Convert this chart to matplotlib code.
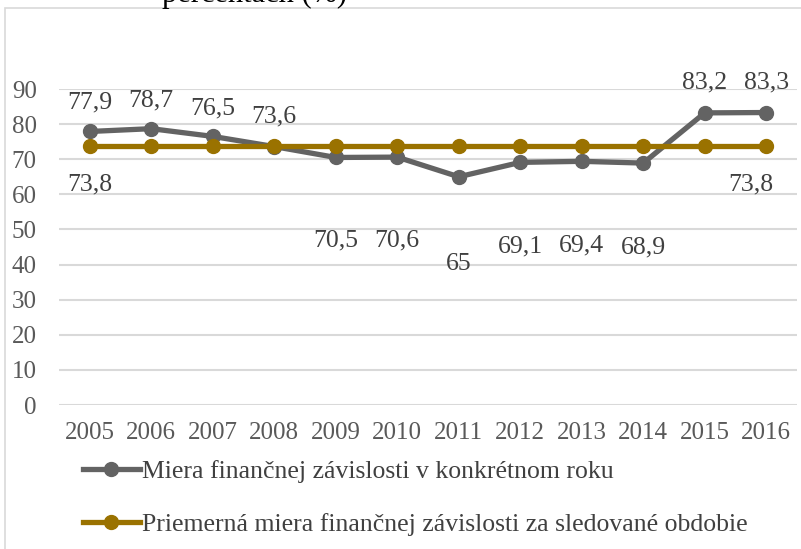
import matplotlib
matplotlib.use('Agg')
import matplotlib.pyplot as plt
from matplotlib.patches import Rectangle

years = ['2005', '2006', '2007', '2008', '2009', '2010', '2011', '2012', '2013', '2014', '2015', '2016']
miera = [77.9, 78.7, 76.5, 73.6, 70.5, 70.6, 65, 69.1, 69.4, 68.9, 83.2, 83.3]
priemer = [73.8] * 12
label_miera = 'Miera finančnej závislosti v konkrétnom roku'
label_priemer = 'Priemerná miera finančnej závislosti za sledované obdobie'

plt.rcParams['font.family'] = ['Liberation Serif', 'DejaVu Serif']

GRAY = '#636363'
GOLD = '#9a7200'
TXT = '#404040'

fig = plt.figure(figsize=(8.01, 5.49), dpi=100)
ax = fig.add_axes([59 / 801, 1 - 405 / 549, 738 / 801, 316 / 549])

x = list(range(len(years)))
ax.plot(x, miera, color=GRAY, lw=3.8, marker='o', ms=10, label=label_miera, zorder=3)
ax.plot(x, priemer, color=GOLD, lw=3.8, marker='o', ms=10, label=label_priemer, zorder=4)

# label offsets (pixels) the way excel placed them
up = [29, 28, 28, 30, -83, -83, -87, -84, -84, -84, 30, 30]
for i, v in enumerate(miera):
    ax.annotate(f'{v:g}'.replace('.', ','), (i, v), xytext=(0, up[i]), textcoords='offset pixels',
                ha='center', va='center', fontsize=18.5, color=TXT, zorder=5)
for i, dx in [(0, 0), (11, -15)]:
    ax.annotate(f'{priemer[i]:g}'.replace('.', ','), (i, priemer[i]), xytext=(dx, -39),
                textcoords='offset pixels', ha='center', va='center', fontsize=18.5, color=TXT, zorder=5)

ax.set_xlim(-0.5, 11.5)
ax.set_ylim(0, 90)
ax.set_yticks(range(0, 91, 10))
ax.set_xticks(x)
ax.set_xticklabels(years)
ax.grid(axis='y', color='#d9d9d9', lw=1.5)
ax.set_axisbelow(True)
for s in ax.spines.values():
    s.set_visible(False)
ax.tick_params(length=0, labelsize=18, colors='#595959')
ax.tick_params(axis='y', pad=16)
ax.tick_params(axis='x', pad=12)

fig.legend(loc='upper left', bbox_to_anchor=(83 / 801, 1 - 460 / 549), frameon=False,
           fontsize=18.5, handlelength=2.2, handletextpad=0.1, labelspacing=1.15,
           borderpad=0, borderaxespad=0, labelcolor=TXT)

# title is cut off at the top of the picture
fig.text(255 / 801, 1 + 6 / 549, 'percentách (%)', ha='center', va='center', fontsize=22, color='black')

fig.patches.append(Rectangle((5 / 801, -0.1), 1.2, 1 - 8 / 549 + 0.1, transform=fig.transFigure,
                             fill=False, edgecolor='#d9d9d9', lw=1.2))

fig.savefig('out.png', dpi=100)
